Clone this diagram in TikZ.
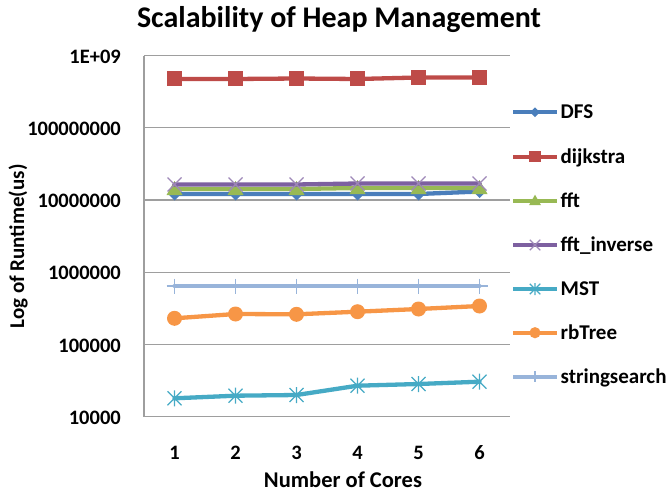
\documentclass[tikz,border=0pt]{standalone}
\usepackage{fontspec}
\setmainfont{Carlito}
\begin{document}
\begin{tikzpicture}[x=1pt,y=-1pt,
  grid/.style={draw=black!38,line width=1.4pt},
  ser/.style={line width=4.3pt,line join=round,line cap=round},
  ticklab/.style={font=\bfseries\fontsize{20.5}{24}\selectfont,anchor=east,inner sep=0pt},
  catlab/.style={font=\bfseries\fontsize{20.5}{24}\selectfont,anchor=center,inner sep=0pt},
  leglab/.style={font=\bfseries\fontsize{21}{24}\selectfont,anchor=base west,inner sep=0pt},
  axtitle/.style={font=\bfseries\fontsize{22.5}{26}\selectfont,inner sep=0pt},
  ]
\definecolor{cdfs}{HTML}{4A7EBB}
\definecolor{cdij}{HTML}{BE4B48}
\definecolor{cfft}{HTML}{98B954}
\definecolor{cinv}{HTML}{7D60A0}
\definecolor{cmst}{HTML}{46AAC5}
\definecolor{crb}{HTML}{F79646}
\definecolor{cstr}{HTML}{98B4DA}
\tikzset{
  mdfs/.pic={\fill[cdfs] (0,-6.5)--(6.5,0)--(0,6.5)--(-6.5,0)--cycle;},
  mdij/.pic={\fill[cdij] (-7.5,-7.5) rectangle (7.5,7.5);},
  mfft/.pic={\fill[cfft] (0,-8)--(8,6)--(-8,6)--cycle;},
  minv/.pic={\draw[cinv!75,line width=1.2pt] (-7,-7)--(7,7) (-7,7)--(7,-7);},
  mmst/.pic={\draw[cmst,line width=1.2pt] (-7,-7)--(7,7) (-7,7)--(7,-7) (0,-8)--(0,8);},
  mrb/.pic={\fill[crb] (0,0) circle (7.5);},
  mstr/.pic={\draw[cstr,line width=1.4pt] (0,-7.5)--(0,7.5) (-8,0)--(8,0);},
}
\useasboundingbox (0,0) rectangle (666,492);
% title
\node[font=\bfseries\fontsize{30}{34}\selectfont,inner sep=0pt] (title) at (339,20) {Scalability of Heap Management};
% gridlines
\foreach \y/\lab [count=\i] in {55.7/1E+09,127.8/100000000,200/10000000,272.3/1000000,344.5/100000,416.7/10000}{
  \draw[grid] (144,\y) -- (510,\y);
  \node[ticklab] (t\i) at (121,\y+1) {\lab};
}
\draw[grid] (144,55.7) -- (144,416.7);
% category labels
\foreach \x [count=\i] in {174.5,235.5,296.5,357.5,418.5,479.5}{
  \node[catlab] (c\i) at (\x,453) {\i};
}
\node[axtitle] (xt) at (343,480) {Number of Cores};
\node[axtitle,font=\bfseries\fontsize{21}{24}\selectfont,rotate=90] (yt) at (18,246.5) {Log of Runtime(us)};
% series
\draw[ser,cdfs] (174.5,194)--(235.5,194)--(296.5,194)--(357.5,194)--(418.5,194)--(479.5,191.5);
\foreach \x/\y in {174.5/194,235.5/194,296.5/194,357.5/194,418.5/194,479.5/191.5} \pic at (\x,\y) {mdfs};
\draw[ser,cdij] (174.5,79)--(235.5,79)--(296.5,78.5)--(357.5,79)--(418.5,77.5)--(479.5,77.5);
\foreach \x/\y in {174.5/79,235.5/79,296.5/78.5,357.5/79,418.5/77.5,479.5/77.5} \pic at (\x,\y) {mdij};
\draw[ser,cfft] (174.5,189)--(235.5,189)--(296.5,189)--(357.5,188)--(418.5,188)--(479.5,188);
\foreach \x/\y in {174.5/189,235.5/189,296.5/189,357.5/188,418.5/188,479.5/188} \pic at (\x,\y) {mfft};
\draw[ser,cinv] (174.5,184.5)--(235.5,184.5)--(296.5,184.5)--(357.5,183.5)--(418.5,183.5)--(479.5,183.5);
\foreach \x/\y in {174.5/184.5,235.5/184.5,296.5/184.5,357.5/183.5,418.5/183.5,479.5/183.5} \pic at (\x,\y) {minv};
\draw[ser,cmst] (174.5,398.3)--(235.5,395.7)--(296.5,395)--(357.5,385.7)--(418.5,384)--(479.5,381.7);
\foreach \x/\y in {174.5/398.3,235.5/395.7,296.5/395,357.5/385.7,418.5/384,479.5/381.7} \pic at (\x,\y) {mmst};
\draw[ser,crb] (174.5,318.3)--(235.5,314)--(296.5,314.3)--(357.5,311.7)--(418.5,309)--(479.5,306);
\foreach \x/\y in {174.5/318.3,235.5/314,296.5/314.3,357.5/311.7,418.5/309,479.5/306} \pic at (\x,\y) {mrb};
\draw[ser,cstr] (174.5,286)--(479.5,286);
\foreach \x in {174.5,235.5,296.5,357.5,418.5,479.5} \pic at (\x,286) {mstr};
% legend
\foreach \y/\c/\m/\lab [count=\i] in {112.3/cdfs/mdfs/DFS,156.7/cdij/mdij/dijkstra,200.7/cfft/mfft/fft,245/cinv/minv/fft\_inverse,289/cmst/mmst/MST,332.7/crb/mrb/rbTree,376.7/cstr/mstr/stringsearch}{
  \coordinate (la\i) at (513,\y);
  \coordinate (lb\i) at (557,\y);
  \draw[ser,\c,line cap=butt] (la\i) -- (lb\i);
  \pic[scale=0.75] at (535,\y) {\m};
  \node[leglab] (l\i) at (560.5,\y+6.5) {\lab};
}
\end{tikzpicture}
\end{document}
